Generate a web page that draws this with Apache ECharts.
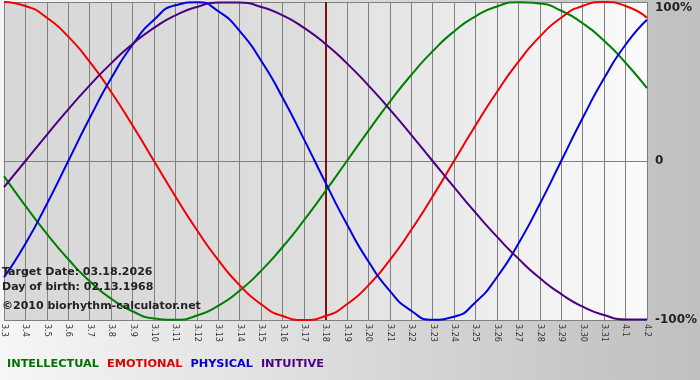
<!DOCTYPE html>
<html>
<head>
<meta charset="utf-8">
<script src="https://cdn.jsdelivr.net/npm/echarts@6/dist/echarts.min.js"></script>
<style>html,body{margin:0;padding:0;}#c{width:700px;height:380px;}</style>
</head>
<body>
<div id="c"></div>
<script>
var days = ['3.3','3.4','3.5','3.6','3.7','3.8','3.9','3.10','3.11','3.12','3.13','3.14','3.15','3.16','3.17','3.18','3.19','3.20','3.21','3.22','3.23','3.24','3.25','3.26','3.27','3.28','3.29','3.30','3.31','4.1','4.2'];
var intellectual = [-0.095,-0.282,-0.458,-0.618,-0.756,-0.866,-0.945,-0.990,-0.999,-0.972,-0.910,-0.815,-0.690,-0.541,-0.372,-0.189,0.000,0.189,0.372,0.541,0.690,0.815,0.910,0.972,0.999,0.990,0.945,0.866,0.756,0.618,0.458];
var emotional = [1.000,0.975,0.901,0.782,0.623,0.434,0.223,0.000,-0.223,-0.434,-0.623,-0.782,-0.901,-0.975,-1.000,-0.975,-0.901,-0.782,-0.623,-0.434,-0.223,0.000,0.223,0.434,0.623,0.782,0.901,0.975,1.000,0.975,0.901];
var physical = [-0.731,-0.520,-0.270,0.000,0.270,0.520,0.731,0.888,0.979,0.998,0.942,0.817,0.631,0.398,0.136,-0.136,-0.398,-0.631,-0.817,-0.942,-0.998,-0.979,-0.888,-0.731,-0.520,-0.270,0.000,0.270,0.520,0.731,0.888];
var intuitive = [-0.165,0.000,0.165,0.325,0.476,0.614,0.736,0.837,0.916,0.969,0.997,0.997,0.969,0.916,0.837,0.736,0.614,0.476,0.325,0.165,0.000,-0.165,-0.325,-0.476,-0.614,-0.736,-0.837,-0.916,-0.969,-0.997,-0.997];
var yTicks = {'1':'100%','0':'0','-1':'-100%'};
var targetDay = '3.18';
var infoLines = ['Target Date: 03.18.2026','Day of birth: 02.13.1968','\u00a92010 biorhythm-calculator.net'];

var chart = echarts.init(document.getElementById('c'));
function line(name, data, color) {
  return {name: name, type: 'line', data: data, smooth: 0.6, showSymbol: false, symbol: 'none',
    lineStyle: {color: color, width: 2}, itemStyle: {color: color}, z: 3};
}
var series = [
  line('INTELLECTUAL', intellectual, '#008000'),
  line('EMOTIONAL', emotional, '#f00000'),
  line('PHYSICAL', physical, '#0000e0'),
  line('INTUITIVE', intuitive, '#4b0082')
];
series[0].markLine = {silent: true, symbol: ['none','none'], label: {show: false},
  lineStyle: {color: '#7a1414', width: 2, type: 'solid'}, data: [{xAxis: targetDay}], z: 2};

chart.setOption({
  animation: false,
  backgroundColor: {type: 'linear', x: 0, y: 0, x2: 1, y2: 0,
    colorStops: [{offset: 0, color: '#f6f6f6'}, {offset: 0.9, color: '#c4c4c4'}, {offset: 1, color: '#c0c0c0'}]},
  grid: {left: 1, right: 50, top: 2, bottom: 60, show: true, borderWidth: 0,
    backgroundColor: {type: 'linear', x: 0, y: 0, x2: 1, y2: 0,
      colorStops: [{offset: 0, color: '#d8d8d8'}, {offset: 0.45, color: '#dddddd'}, {offset: 1, color: '#fbfbfb'}]}},
  legend: {left: -3, top: 354, icon: 'none', itemWidth: 0, itemHeight: 0, itemGap: 3, selectedMode: false,
    data: [
      {name: 'INTELLECTUAL', textStyle: {color: '#007000'}},
      {name: 'EMOTIONAL', textStyle: {color: '#e00000'}},
      {name: 'PHYSICAL', textStyle: {color: '#0000d0'}},
      {name: 'INTUITIVE', textStyle: {color: '#4b0082'}}
    ],
    textStyle: {fontFamily: 'DejaVu Sans', fontWeight: 'bold', fontSize: 11.3}},
  xAxis: {type: 'category', data: days, boundaryGap: false,
    axisLine: {lineStyle: {color: '#808080'}}, axisTick: {show: false},
    splitLine: {show: true, lineStyle: {color: '#808080', width: 1}},
    axisLabel: {interval: 0, rotate: -90, margin: 4, fontSize: 8, fontFamily: 'DejaVu Sans', color: '#333'}},
  yAxis: {type: 'value', position: 'right', min: -1, max: 1, interval: 1,
    axisLine: {show: false}, axisTick: {show: false},
    splitLine: {show: true, lineStyle: {color: '#808080', width: 1}},
    axisLabel: {margin: 8, fontSize: 12, fontWeight: 'bold', fontFamily: 'DejaVu Sans', color: '#222',
      formatter: function (v) { var s = yTicks[String(v)]; return v === 1 ? '{t|' + s + '}' : s; },
      rich: {t: {fontSize: 12, fontWeight: 'bold', fontFamily: 'DejaVu Sans', color: '#222', padding: [12, 0, 0, 0]}}}},
  graphic: infoLines.map(function (t, i) {
    return {type: 'text', left: 2, top: [267, 282, 301][i], z: 10,
      style: {text: t, font: 'bold 11px "DejaVu Sans"', fill: '#222'}};
  }),
  series: series
});
</script>
</body>
</html>
